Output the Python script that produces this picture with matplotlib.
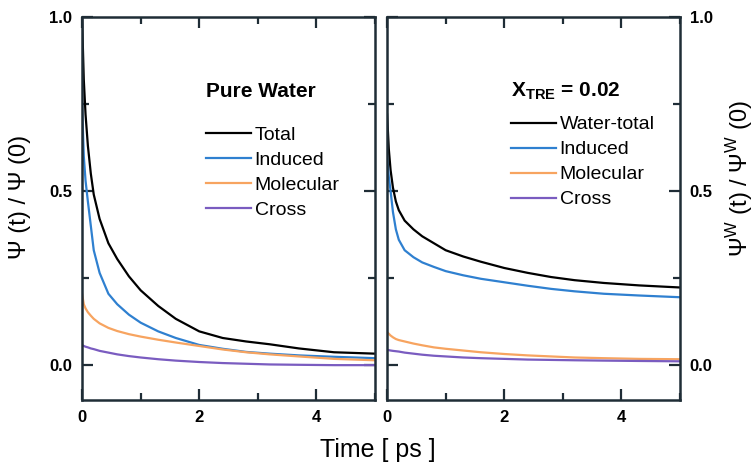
import numpy as np
import matplotlib.pyplot as plt
from matplotlib.ticker import MultipleLocator, FormatStrFormatter

plt.rcParams['font.family'] = ['Liberation Sans', 'DejaVu Sans']
plt.rcParams['mathtext.fontset'] = 'custom'
plt.rcParams['mathtext.rm'] = 'Liberation Sans'

# time grid (ps), shared by both panels
t = [0, 0.03, 0.06, 0.1, 0.15, 0.2, 0.3, 0.45, 0.6, 0.8, 1.0, 1.3, 1.6,
     2.0, 2.4, 2.8, 3.2, 3.7, 4.3, 5.0]

# pure water
pw_total = [1.0, 0.82, 0.72, 0.63, 0.55, 0.49, 0.42, 0.35, 0.305, 0.255, 0.215,
            0.17, 0.133, 0.097, 0.078, 0.068, 0.06, 0.048, 0.037, 0.033]
pw_induced = [0.75, 0.60, 0.53, 0.47, 0.40, 0.33, 0.265, 0.205, 0.175, 0.145,
              0.122, 0.097, 0.078, 0.058, 0.047, 0.038, 0.033, 0.028, 0.024, 0.02]
pw_molecular = [0.205, 0.175, 0.163, 0.152, 0.142, 0.133, 0.12, 0.107, 0.098,
                0.089, 0.082, 0.073, 0.065, 0.055, 0.045, 0.037, 0.031, 0.025,
                0.018, 0.014]
pw_cross = [0.058, 0.055, 0.053, 0.051, 0.048, 0.046, 0.041, 0.036, 0.031,
            0.026, 0.022, 0.017, 0.013, 0.009, 0.006, 0.004, 0.002, 0.001,
            0.0, 0.0]

# x_TRE = 0.02
tre_total = [0.72, 0.62, 0.56, 0.51, 0.47, 0.445, 0.415, 0.39, 0.37, 0.35,
             0.33, 0.312, 0.297, 0.279, 0.265, 0.253, 0.244, 0.236, 0.229, 0.223]
tre_induced = [0.60, 0.54, 0.50, 0.44, 0.39, 0.36, 0.33, 0.31, 0.295, 0.282,
               0.27, 0.258, 0.248, 0.238, 0.228, 0.219, 0.212, 0.205, 0.2, 0.195]
tre_molecular = [0.095, 0.09, 0.085, 0.08, 0.075, 0.072, 0.068, 0.062, 0.057,
                 0.051, 0.047, 0.042, 0.037, 0.032, 0.028, 0.025, 0.022, 0.02,
                 0.018, 0.017]
tre_cross = [0.044, 0.043, 0.042, 0.041, 0.04, 0.039, 0.036, 0.033, 0.03,
             0.027, 0.025, 0.022, 0.02, 0.018, 0.016, 0.015, 0.014, 0.013,
             0.012, 0.011]

colors = ['black', '#2f80d0', '#f7a460', '#7a5cc0']
spine_col = '#1f2d36'

fig = plt.figure(figsize=(7.56, 4.7), dpi=100)
ax1 = fig.add_axes([0.1085, 0.149, 0.3876, 0.815])
ax2 = fig.add_axes([0.512, 0.149, 0.3876, 0.815])

panels = [
    (ax1, [pw_total, pw_induced, pw_molecular, pw_cross],
     ['Total', 'Induced', 'Molecular', 'Cross'], 'Pure Water', (0.39, 0.855), 18),
    (ax2, [tre_total, tre_induced, tre_molecular, tre_cross],
     ['Water-total', 'Induced', 'Molecular', 'Cross'],
     r'X$_{\mathregular{TRE}}$ = 0.02', (0.39, 0.86), 10),
]

for ax, series, labels, title, anchor, sep in panels:
    for y, c, lab in zip(series, colors, labels):
        ax.plot(t, y, color=c, lw=1.6, label=lab)
    ax.set_xlim(0, 5)
    ax.set_ylim(-0.1, 1.0)
    ax.xaxis.set_major_locator(MultipleLocator(2))
    ax.xaxis.set_minor_locator(MultipleLocator(1))
    ax.yaxis.set_major_locator(MultipleLocator(0.5))
    ax.yaxis.set_minor_locator(MultipleLocator(0.25))
    ax.xaxis.set_major_formatter(FormatStrFormatter('%d'))
    ax.yaxis.set_major_formatter(FormatStrFormatter('%.1f'))
    ax.tick_params(which='both', direction='in', top=True, right=True,
                   color=spine_col, width=1.6)
    ax.tick_params(which='major', length=8, labelsize=12, pad=7)
    ax.tick_params(which='minor', length=5)
    for s in ax.spines.values():
        s.set_color(spine_col)
        s.set_linewidth(1.8)
    leg = ax.legend(loc='upper left', bbox_to_anchor=anchor, frameon=False,
                    title=title, fontsize=14, handlelength=2.3,
                    handletextpad=0.2, labelspacing=0.38, borderpad=0,
                    alignment='left',
                    title_fontproperties={'weight': 'bold', 'size': 15})
    leg._legend_box.sep = sep

ax2.tick_params(which='both', labelleft=False, labelright=True)

fig.text(0.026, 0.58, 'Ψ (t) / Ψ (0)', rotation=90, ha='center', va='center',
         fontsize=17)
fig.text(0.978, 0.62, r'Ψ$^{\mathregular{W}}$ (t) / Ψ$^{\mathregular{W}}$ (0)',
         rotation=90, ha='center', va='center', fontsize=17)
fig.text(0.5, 0.042, 'Time [ ps ]', ha='center', va='center', fontsize=18)

fig.canvas.draw()
for ax in (ax1, ax2):
    for lab in ax.get_xticklabels() + ax.get_yticklabels():
        lab.set_fontweight('bold')
    for tk in ax.yaxis.get_major_ticks():
        tk.label2.set_fontweight('bold')

fig.savefig('out.png', dpi=100)
